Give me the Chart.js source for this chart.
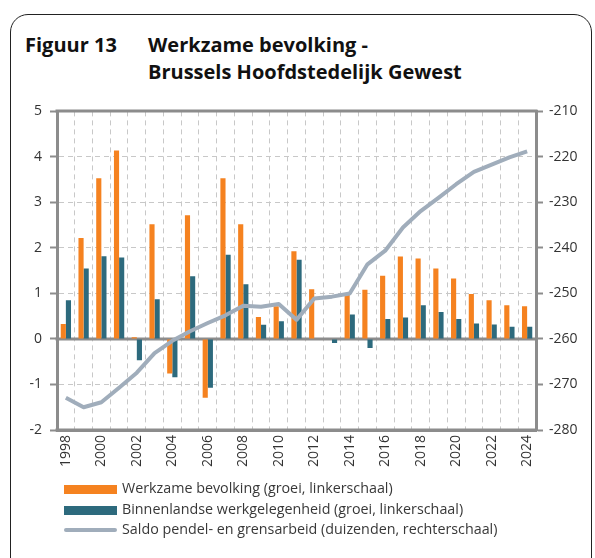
<!DOCTYPE html>
<html>
<head>
<meta charset="utf-8">
<script src="https://cdn.jsdelivr.net/npm/chart.js@4/dist/chart.umd.min.js"></script>
<style>
  body { margin: 0; background: #fff; width: 595px; height: 558px; overflow: hidden; position: relative; font-family: 'Open Sans', sans-serif; }
  .card { position: absolute; left: 10px; top: 14px; width: 582px; height: 600px; border: 1.5px solid #222; border-radius: 18px; box-sizing: border-box; }
  .title { position: absolute; font-weight: bold; font-size: 20px; line-height: 27px; color: #111; white-space: nowrap; }
  #wrap { position: absolute; left: 0; top: 95px; width: 595px; height: 385px; }
  .legend { position: absolute; left: 0; top: 478px; font-size: 14.3px; color: #383838; }
  .row { position: absolute; left: 64px; height: 20px; line-height: 20px; white-space: nowrap; }
  .sw { display: inline-block; width: 53px; vertical-align: middle; margin-right: 5px; }
</style>
</head>
<body>
<div class="card"></div>
<div class="title" style="left:25px; top:31px;">Figuur 13</div>
<div class="title" style="left:148px; top:31px;">Werkzame bevolking -</div>
<div class="title" style="left:148px; top:58px;">Brussels Hoofdstedelijk Gewest</div>
<div id="wrap"><canvas id="chart"></canvas></div>
<div class="legend">
  <div class="row" style="top:0px;"><span class="sw" style="height:9px; background:#F58220;"></span>Werkzame bevolking (groei, linkerschaal)</div>
  <div class="row" style="top:21px;"><span class="sw" style="height:9px; background:#2D6A7D;"></span>Binnenlandse werkgelegenheid (groei, linkerschaal)</div>
  <div class="row" style="top:41px;"><span class="sw" style="height:4px; border-radius:2px; background:#A0ADBB;"></span>Saldo pendel- en grensarbeid (duizenden, rechterschaal)</div>
</div>
<script>
const years = ['1998','1999','2000','2001','2002','2003','2004','2005','2006','2007','2008','2009','2010',
  '2011','2012','2013','2014','2015','2016','2017','2018','2019','2020','2021','2022','2023','2024'];

// groei in %, linkerschaal
const werkzameBevolking = [0.33, 2.22, 3.53, 4.14, 0.04, 2.52, -0.76, 2.72, -1.29, 3.53, 2.52, 0.48, 0.72,
  1.93, 1.09, 0, 0.98, 1.08, 1.39, 1.81, 1.77, 1.55, 1.33, 0.99, 0.85, 0.74, 0.72];
const binnenlandseWerkgelegenheid = [0.85, 1.55, 1.82, 1.79, -0.47, 0.87, -0.84, 1.38, -1.07, 1.85, 1.20, 0.31, 0.39,
  1.74, 0, -0.09, 0.54, -0.20, 0.44, 0.47, 0.74, 0.59, 0.44, 0.34, 0.32, 0.27, 0.27];

// duizenden, rechterschaal
const saldoPendel = [-272.9, -275.0, -273.9, -270.7, -267.4, -263.1, -260.4, -258.3, -256.5, -254.8, -252.7, -252.9, -252.3,
  -255.8, -251.1, -250.7, -250.0, -243.6, -240.6, -235.5, -231.9, -229.0, -226.0, -223.3, -221.7, -220.1, -218.8];

const solidLeftLines = [5, 0, -2];

const axisGray = '#8c8c8c';
const gridGray = '#c8c8c8';
const textColor = '#333333';
const tickFont = { family: 'Open Sans', size: 14 };

// solid lines for top, zero and bottom of the left scale
const solidLines = {
  id: 'solidLines',
  beforeDatasetsDraw(chart) {
    const { ctx, chartArea, scales } = chart;
    ctx.save();
    ctx.strokeStyle = axisGray;
    ctx.lineWidth = 3;
    solidLeftLines.forEach(v => {
      const y = Math.round(scales.y.getPixelForValue(v));
      ctx.beginPath();
      ctx.moveTo(chartArea.left - 1.5, y);
      ctx.lineTo(chartArea.right + 1.5, y);
      ctx.stroke();
    });
    ctx.restore();
  }
};

new Chart(document.getElementById('chart'), {
  type: 'bar',
  data: {
    labels: years,
    datasets: [
      {
        type: 'line',
        label: 'Saldo pendel- en grensarbeid (duizenden, rechterschaal)',
        data: saldoPendel,
        yAxisID: 'y2',
        borderColor: '#A0ADBB',
        borderWidth: 4,
        pointRadius: 0,
        tension: 0,
        borderJoinStyle: 'round',
      },
      {
        label: 'Werkzame bevolking (groei, linkerschaal)',
        data: werkzameBevolking,
        yAxisID: 'y',
        backgroundColor: '#F58220',
      },
      {
        label: 'Binnenlandse werkgelegenheid (groei, linkerschaal)',
        data: binnenlandseWerkgelegenheid,
        yAxisID: 'y',
        backgroundColor: '#2D6A7D',
      },
    ],
  },
  options: {
    responsive: true,
    maintainAspectRatio: false,
    animation: false,
    datasets: { bar: { barPercentage: 1, categoryPercentage: 0.58 } },
    layout: { padding: { top: 15, left: 0, right: 0, bottom: 0 } },
    plugins: {
      legend: { display: false },
      tooltip: { enabled: false },
    },
    scales: {
      x: {
        grid: { color: gridGray, lineWidth: 1, drawTicks: false, offset: true },
        border: { color: axisGray, width: 3, dash: [5, 4] },
        ticks: {
          color: textColor,
          font: tickFont,
          autoSkip: false,
          minRotation: 90,
          maxRotation: 90,
          padding: 5,
          callback: (v, i) => (i % 2 === 0 ? years[i] : ''),
        },
        afterFit: s => { s.height = 50; },
      },
      y: {
        position: 'left',
        min: -2,
        max: 5,
        grid: { color: gridGray, lineWidth: 1, tickColor: axisGray, tickLength: 7, tickWidth: 2 },
        border: { color: axisGray, width: 3, dash: [5, 4] },
        ticks: { stepSize: 1, color: textColor, font: tickFont, padding: 8 },
        afterFit: s => { s.width = 57; },
      },
      y2: {
        position: 'right',
        min: -280,
        max: -210,
        grid: { drawOnChartArea: false, tickColor: axisGray, tickLength: 7, tickWidth: 2 },
        border: { color: axisGray, width: 3 },
        ticks: { stepSize: 10, color: textColor, font: tickFont, padding: 6 },
        afterFit: s => { s.width = 59; },
      },
    },
  },
  plugins: [solidLines],
});
</script>
</body>
</html>
